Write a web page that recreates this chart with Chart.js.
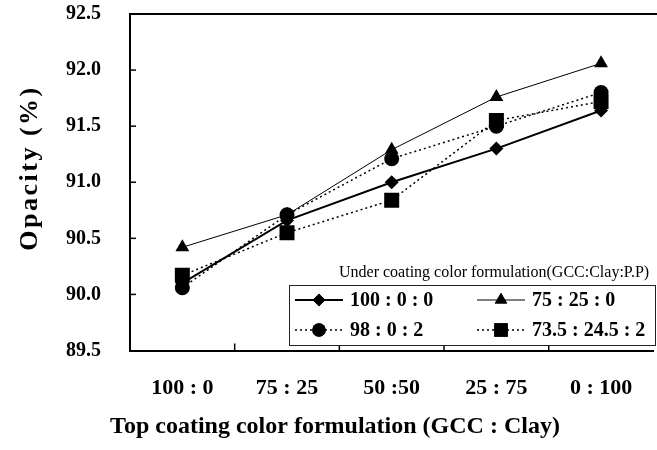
<!DOCTYPE html>
<html><head><meta charset="utf-8">
<script src="https://cdn.jsdelivr.net/npm/chart.js@4/dist/chart.umd.min.js"></script>
<style>
html,body{margin:0;padding:0;overflow:hidden;background:#fff;width:657px;height:450px;}
#wrap{position:absolute;left:0;top:0;width:664px;height:450px;}
#c{width:664px;height:450px;display:block;}
</style></head><body>
<div id="wrap"><canvas id="c" width="664" height="450" style="width:664px;height:450px"></canvas></div>
<script>
const categories = ['100 : 0', '75 : 25', '50 :50', '25 : 75', '0 : 100'];
const yTickValues = [89.5, 90.0, 90.5, 91.0, 91.5, 92.0, 92.5];
const seriesNames = ['100 : 0 : 0', '75 : 25 : 0', '98 : 0 : 2', '73.5 : 24.5 : 2'];
const s100_0_0 = [90.10, 90.66, 91.00, 91.30, 91.64];
const s75_25_0 = [90.42, 90.71, 91.29, 91.76, 92.06];
const s98_0_2 = [90.06, 90.71, 91.21, 91.50, 91.80];
const s735_245_2 = [90.17, 90.55, 90.84, 91.55, 91.72];
const legendTitle = 'Under coating color formulation(GCC:Clay:P.P)';
const xTitle = 'Top coating color formulation (GCC : Clay)';
const yTitle = 'Opacity (%)';

const SERIF = '"Liberation Serif", "Times New Roman", serif';

const decorPlugin = {
  id: 'decor',
  beforeDatasetsDraw(chart) {
    const ctx = chart.ctx, a = chart.chartArea;
    const xs = chart.scales.x, ys = chart.scales.y;
    ctx.save();
    ctx.strokeStyle = '#000';
    ctx.lineWidth = 2;
    ctx.beginPath(); ctx.moveTo(a.left - 1, a.top); ctx.lineTo(a.right + 10, a.top); ctx.stroke();
    ctx.lineWidth = 1.5;
    yTickValues.forEach(v => {
      if (v <= ys.min || v >= ys.max) return;
      const y = ys.getPixelForValue(v);
      ctx.beginPath(); ctx.moveTo(a.left, y); ctx.lineTo(a.left + 6, y); ctx.stroke();
    });
    for (let i = 0; i < categories.length - 1; i++) {
      const x = (xs.getPixelForTick(i) + xs.getPixelForTick(i + 1)) / 2;
      ctx.beginPath(); ctx.moveTo(x, a.bottom); ctx.lineTo(x, a.bottom - 7); ctx.stroke();
    }
    ctx.restore();
  },
  afterDraw(chart) {
    const ctx = chart.ctx;
    ctx.save();
    ctx.fillStyle = '#000';
    ctx.textAlign = 'center';
    ctx.textBaseline = 'middle';
    ctx.font = 'bold 24px ' + SERIF;
    ctx.fillText(xTitle, 335, 427);
    ctx.save();
    ctx.translate(30, 169);
    ctx.rotate(-Math.PI / 2);
    ctx.font = 'bold 26px ' + SERIF;
    try { ctx.letterSpacing = '2.5px'; } catch (e) {}
    ctx.fillText(yTitle, 1, 0);
    ctx.restore();
    ctx.font = '16px ' + SERIF;
    ctx.textAlign = 'left';
    ctx.fillText(legendTitle, 339, 273);
    const bx = 289, by = 285, bw = 366, bh = 60;
    ctx.fillStyle = '#fff';
    ctx.fillRect(bx, by, bw, bh);
    ctx.strokeStyle = '#222';
    ctx.lineWidth = 1;
    ctx.strokeRect(bx + 0.5, by + 0.5, bw, bh);
    const cols = [295, 477], rows = [300, 330];
    chart.data.datasets.forEach((ds, i) => {
      const x0 = cols[i % 2], y = rows[Math.floor(i / 2)];
      ctx.save();
      ctx.strokeStyle = '#000';
      ctx.lineWidth = ds.borderWidth;
      ctx.setLineDash(ds.borderDash || []);
      ctx.beginPath(); ctx.moveTo(x0, y); ctx.lineTo(x0 + 48, y); ctx.stroke();
      ctx.setLineDash([]);
      ctx.fillStyle = '#000';
      Chart.helpers.drawPoint(ctx, {pointStyle: ds.pointStyle, radius: ds.pointRadius * 0.9, rotation: 0, borderWidth: 0}, x0 + 24, y);
      ctx.fill();
      ctx.fillStyle = '#000';
      ctx.font = 'bold 20px ' + SERIF;
      ctx.textAlign = 'left';
      ctx.textBaseline = 'middle';
      ctx.fillText(ds.label, x0 + 55, y + 1);
      ctx.restore();
    });
    ctx.restore();
  }
};

const base = {borderColor: '#000', backgroundColor: '#000', pointBackgroundColor: '#000', pointBorderColor: '#000', pointBorderWidth: 0, tension: 0, fill: false};

function zeroPad(s) { s.paddingLeft = 0; s.paddingRight = 0; s.paddingTop = 0; s.paddingBottom = 0; }

new Chart(document.getElementById('c'), {
  type: 'line',
  data: {
    labels: categories,
    datasets: [
      Object.assign({}, base, {label: seriesNames[0], data: s100_0_0, borderWidth: 2, pointStyle: 'rectRot', pointRadius: 7, borderDash: []}),
      Object.assign({}, base, {label: seriesNames[1], data: s75_25_0, borderWidth: 1, pointStyle: 'triangle', pointRadius: 8, borderDash: []}),
      Object.assign({}, base, {label: seriesNames[2], data: s98_0_2, borderWidth: 1.5, pointStyle: 'circle', pointRadius: 7.5, borderDash: [2, 3]}),
      Object.assign({}, base, {label: seriesNames[3], data: s735_245_2, borderWidth: 1.5, pointStyle: 'rect', pointRadius: 10.6, borderDash: [2, 3]})
    ]
  },
  options: {
    responsive: false,
    maintainAspectRatio: false,
    devicePixelRatio: 1,
    animation: false,
    layout: {padding: {left: 0, top: 14, right: 4, bottom: 0}},
    plugins: {legend: {display: false}, tooltip: {enabled: false}},
    scales: {
      x: {
        type: 'category',
        offset: true,
        grid: {display: false, drawTicks: false},
        border: {display: true, color: '#000', width: 2},
        ticks: {color: '#000', font: {family: SERIF, size: 22, weight: 'bold'}, padding: 25, maxRotation: 0, autoSkip: false},
        afterFit(s) { s.height = 99.5; zeroPad(s); }
      },
      y: {
        min: 89.5, max: 92.5,
        afterBuildTicks(s) { s.ticks = yTickValues.map(v => ({value: v})); },
        grid: {display: false, drawTicks: false},
        border: {display: true, color: '#000', width: 2},
        ticks: {color: '#000', font: {family: SERIF, size: 20, weight: 'bold'}, padding: 29, callback: v => Number(v).toFixed(1)},
        afterFit(s) { s.width = 130; zeroPad(s); }
      }
    }
  },
  plugins: [decorPlugin]
});
</script>
</body></html>
